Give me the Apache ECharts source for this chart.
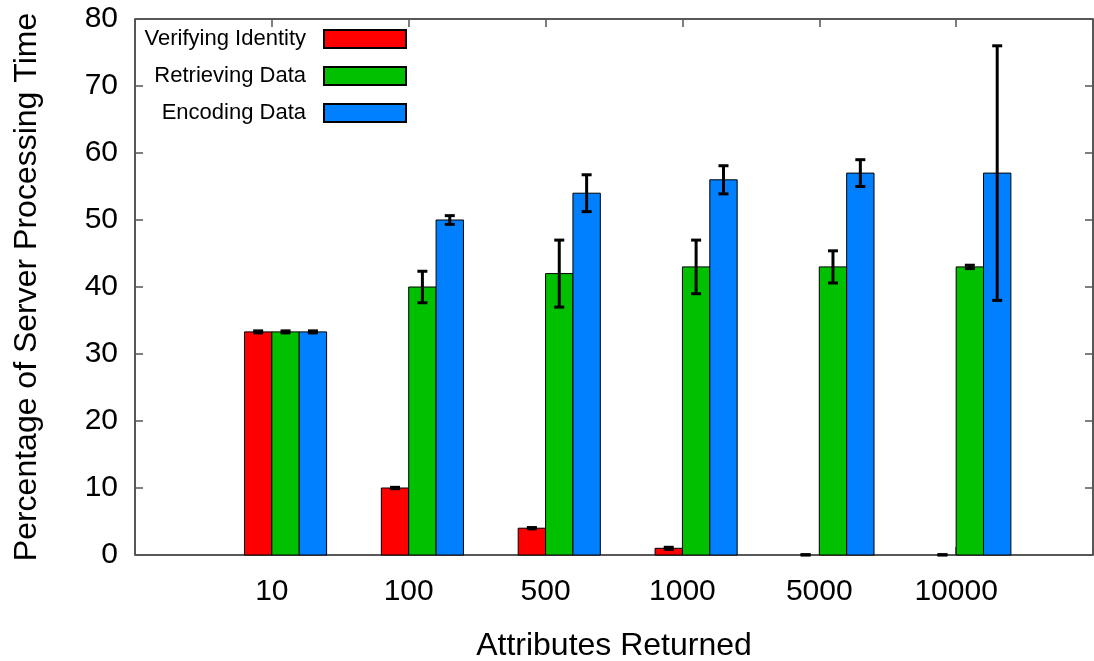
<!DOCTYPE html>
<html>
<head>
<meta charset="utf-8">
<script src="https://cdn.jsdelivr.net/npm/echarts@6/dist/echarts.min.js"></script>
<style>html,body{margin:0;padding:0;background:#fff;}#c{width:1094px;height:661px;}</style>
</head>
<body>
<div id="c"></div>
<script>
const categories = ['10', '100', '500', '1000', '5000', '10000'];
const seriesNames = ['Verifying Identity', 'Retrieving Data', 'Encoding Data'];
const verifyValues = [33.3, 10, 4, 1, 0, 0];
const verifyErrors = [0.15, 0.1, 0.1, 0.15, 0.05, 0.05];
const retrieveValues = [33.3, 40, 42, 43, 43, 43];
const retrieveErrors = [0.15, 2.35, 5, 4, 2.4, 0.25];
const encodeValues = [33.3, 50, 54, 56, 57, 57];
const encodeErrors = [0.15, 0.65, 2.75, 2.1, 2, 19];
const yTicks = [0, 10, 20, 30, 40, 50, 60, 70, 80];

const colors = ['#ff0000', '#00c000', '#0080ff'];
const FONT = 'Liberation Sans, Arial, Helvetica, sans-serif';
const BAR_W = 0.2;
const offsets = [-0.2, 0, 0.2];

function buildData(vals, errs) {
  return vals.map((v, i) => [i, v, errs[i]]);
}

function makeRender(offset, color) {
  return function (params, api) {
    const i = api.value(0), v = api.value(1), e = api.value(2);
    const tl = api.coord([i + offset, v]);
    const br = api.coord([i + offset + BAR_W, 0]);
    const children = [];
    if (v > 0) {
      children.push({
        type: 'rect',
        shape: { x: tl[0], y: tl[1], width: br[0] - tl[0], height: br[1] - tl[1] },
        style: { fill: color, stroke: '#000', lineWidth: 1 }
      });
    }
    const cx = (tl[0] + br[0]) / 2;
    const top = api.coord([i, v + e])[1];
    const bot = api.coord([i, Math.max(0, v - e)])[1];
    const half = 5;
    const ls = { stroke: '#000', lineWidth: 3 };
    children.push({ type: 'line', shape: { x1: cx, y1: top, x2: cx, y2: bot }, style: ls, z2: 10 });
    children.push({ type: 'line', shape: { x1: cx - half, y1: top, x2: cx + half, y2: top }, style: ls, z2: 10 });
    children.push({ type: 'line', shape: { x1: cx - half, y1: bot, x2: cx + half, y2: bot }, style: ls, z2: 10 });
    return { type: 'group', children: children };
  };
}

const allVals = [verifyValues, retrieveValues, encodeValues];
const allErrs = [verifyErrors, retrieveErrors, encodeErrors];

const series = seriesNames.map((name, k) => ({
  name: name,
  type: 'custom',
  renderItem: makeRender(offsets[k], colors[k]),
  data: buildData(allVals[k], allErrs[k]),
  itemStyle: { color: colors[k], borderColor: '#000', borderWidth: 1 },
  encode: { x: 0, y: 1 },
  z: 2 + k
}));

const tickStyle = { show: true, inside: true, length: 8, lineStyle: { color: '#555', width: 1.5 } };
const hiddenLine = { show: false, onZero: false };

const chart = echarts.init(document.getElementById('c'), null, { renderer: 'canvas' });
chart.setOption({
  animation: false,
  backgroundColor: '#fff',
  grid: {
    left: 135, right: 1, top: 19, bottom: 106,
    containLabel: false,
    outerBoundsMode: 'none',
    show: true, borderColor: '#222', borderWidth: 1.5, backgroundColor: 'transparent'
  },
  legend: {
    orient: 'vertical',
    align: 'right',
    right: 687,
    top: 28,
    padding: 0,
    itemWidth: 82,
    itemHeight: 18,
    itemGap: 15,
    icon: 'rect',
    selectedMode: false,
    textStyle: { fontFamily: FONT, fontSize: 22, color: '#000', padding: [0, 13, 0, 0] },
    data: seriesNames
  },
  xAxis: [{
    type: 'value', min: -1, max: 6, interval: 1, position: 'bottom',
    splitLine: { show: false },
    axisLine: hiddenLine,
    axisTick: tickStyle,
    axisLabel: {
      fontFamily: FONT, fontSize: 30, color: '#000', margin: 22,
      formatter: function (v) { return categories[v] !== undefined ? categories[v] : ''; }
    },
    name: 'Attributes Returned',
    nameLocation: 'middle',
    nameGap: 75,
    nameTextStyle: { fontFamily: FONT, fontSize: 32, color: '#000' }
  }, {
    type: 'value', min: -1, max: 6, interval: 1, position: 'top',
    splitLine: { show: false }, axisLine: hiddenLine,
    axisTick: tickStyle, axisLabel: { show: false }
  }],
  yAxis: [{
    type: 'value', min: yTicks[0], max: yTicks[yTicks.length - 1], interval: 10, position: 'left',
    splitLine: { show: false },
    axisLine: hiddenLine,
    axisTick: tickStyle,
    axisLabel: { fontFamily: FONT, fontSize: 30, color: '#000', margin: 17 },
    name: 'Percentage of Server Processing Time',
    nameLocation: 'middle',
    nameGap: 92,
    nameTextStyle: { fontFamily: FONT, fontSize: 32, color: '#000' }
  }, {
    type: 'value', min: yTicks[0], max: yTicks[yTicks.length - 1], interval: 10, position: 'right',
    splitLine: { show: false }, axisLine: hiddenLine,
    axisTick: tickStyle, axisLabel: { show: false }
  }],
  series: series
});
</script>
</body>
</html>
